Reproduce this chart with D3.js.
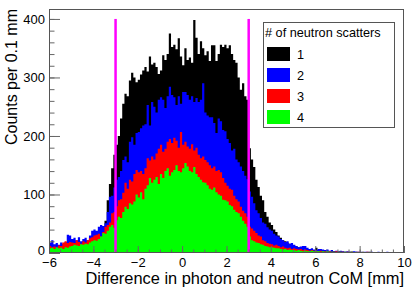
<!DOCTYPE html>
<html lang="en">
<head>
<meta charset="utf-8">
<title>Neutron scatters</title>
<script src="https://cdn.jsdelivr.net/npm/d3@7"></script>
<style>
  body { margin: 0; background: white; }
  svg { display: block; font-family: "Liberation Sans", Arial, sans-serif; }
</style>
</head>
<body>
<div id="chart"></div>
<script>
// bins: 0.1 mm wide, from -6 to 10 mm
var binStart = -6, binWidth = 0.1;

// counts per bin, one row per 1 mm
var oneScatter = [
  8,10,9,12,10,11,13,12,14,15,
  14,16,15,18,17,19,20,20,24,26,
  28,30,34,40,46,55,90,118,145,168,
  185,200,230,255,272,268,295,308,300,292,
  296,305,312,318,310,336,322,325,318,306,
  312,338,330,340,375,352,356,348,367,336,
  321,350,330,334,325,398,368,340,362,350,
  338,345,328,355,355,328,340,356,352,356,
  350,355,340,330,325,300,279,290,268,262,
  179,160,147,125,113,98,90,70,62,52,
  48,40,36,30,26,22,20,18,16,14,
  13,12,10,9,8,8,7,6,6,5,
  9,5,4,4,3,4,3,2,3,3,
  2,3,2,2,1,2,2,1,2,1,
  1,2,1,1,2,1,1,1,1,1,
  1,1,0,1,1,1,0,1,1,0
];
var twoScatter = [
  18,22,15,17,14,18,16,19,31,30,
  24,26,22,27,20,24,26,22,30,38,
  40,38,45,48,46,51,70,96,98,112,
  125,130,140,159,165,155,190,198,185,205,
  207,213,218,220,253,218,258,250,240,262,
  266,262,248,268,284,270,266,253,268,255,
  275,275,270,262,268,258,265,258,262,290,
  240,235,232,232,222,205,230,225,210,208,
  195,188,175,178,160,155,148,140,132,126,
  105,96,85,73,68,60,52,50,44,40,
  38,33,30,28,24,22,19,20,16,17,
  14,12,10,11,12,12,9,7,8,6,
  5,7,7,6,5,6,4,5,3,4,
  3,4,3,2,3,2,2,3,2,2,
  2,1,2,2,1,2,1,1,2,1,
  1,1,2,1,1,0,1,1,1,1
];
var threeScatter = [
  12,10,11,9,13,12,18,20,17,19,
  18,17,22,19,16,20,18,22,25,27,
  30,31,33,28,36,45,48,52,68,70,
  80,90,92,103,120,110,125,122,135,142,
  138,140,135,145,162,158,165,160,170,178,
  185,173,178,190,195,188,197,192,180,207,
  185,190,182,178,186,175,180,168,162,165,
  159,155,150,145,148,140,142,138,128,120,
  115,110,108,98,92,88,79,72,68,62,
  45,42,38,34,30,28,22,20,17,16,
  15,13,14,12,10,11,9,8,9,7,
  8,7,6,7,5,6,5,4,5,4,
  4,3,4,3,3,2,3,2,2,3,
  2,2,2,1,2,1,2,1,1,2,
  1,1,1,2,1,1,1,0,1,1,
  1,0,1,1,0,1,1,0,1,0
];
var fourScatter = [
  8,9,7,10,8,9,7,10,9,11,
  12,14,13,12,15,14,16,15,18,20,
  22,21,24,28,34,33,38,45,48,43,
  56,62,60,70,79,75,85,83,88,100,
  95,104,92,110,116,128,120,125,130,118,
  135,128,140,145,132,138,142,150,140,138,
  145,154,148,140,138,147,135,130,125,121,
  120,116,110,108,112,104,100,98,91,90,
  88,82,80,74,70,68,62,55,50,45,
  28,22,20,18,17,15,14,12,11,10,
  10,9,8,8,7,6,7,5,6,5,
  5,4,5,4,3,4,3,3,4,3,
  3,3,2,3,2,3,2,2,2,1,
  2,2,1,2,1,1,2,1,1,1,
  1,1,1,0,1,1,1,1,0,1,
  0,1,1,0,1,0,1,1,0,1
];
var seriesLabels = ["1", "2", "3", "4"];
var seriesColors = ["#000000", "#0000ff", "#ff0000", "#00ff00"];
var cutLines = [-3, 3];
var cutHeight = 400;
var legendTitle = "# of neutron scatters";
var xTitle = "Difference in photon and neutron CoM [mm]";
var yTitle = "Counts per 0.1 mm";

var W = 415, H = 294;
var padL = 49, padR = 404, padT = 9, padB = 253;

var svg = d3.select("#chart").append("svg")
    .attr("width", W).attr("height", H);

var x = d3.scaleLinear().domain([-6, 10]).range([padL, padR]);
var y = d3.scaleLinear().domain([0, 417]).range([padB, padT]);

svg.append("clipPath").attr("id", "plot")
  .append("rect").attr("x", padL).attr("y", padT)
  .attr("width", padR - padL).attr("height", padB - padT);

var area = d3.area()
    .curve(d3.curveStepAfter)
    .x(function(d) { return x(d[0]); })
    .y0(y(0))
    .y1(function(d) { return y(d[1]); });

var g = svg.append("g").attr("clip-path", "url(#plot)");
[oneScatter, twoScatter, threeScatter, fourScatter].forEach(function(vals, k) {
  var pts = vals.map(function(v, i) { return [binStart + i * binWidth, v]; });
  pts.push([binStart + vals.length * binWidth, vals[vals.length - 1]]);
  g.append("path")
    .attr("d", area(pts))
    .attr("fill", seriesColors[k])
    .attr("stroke", "none");
});

// cut lines
svg.selectAll(".cut").data(cutLines).enter().append("line")
  .attr("x1", function(d) { return x(d); }).attr("x2", function(d) { return x(d); })
  .attr("y1", y(0)).attr("y2", y(cutHeight))
  .attr("stroke", "#ff00ff").attr("stroke-width", 2.5);

// axes, ticks inside the frame
function styleAxis(sel) {
  sel.select(".domain").remove();
  sel.selectAll("line").attr("stroke", "#666");
  sel.selectAll("text").attr("fill", "#000").style("font-size", "13px")
    .style("font-family", "'Liberation Sans', Arial, sans-serif");
}
var fmt = function(d) { return String(d).replace("-", "\u2212"); };

svg.append("g").attr("transform", "translate(" + padL + ",0)")
  .call(d3.axisLeft(y).tickValues(d3.range(0, 401, 20)).tickSize(-5.5).tickFormat(""))
  .call(styleAxis);
svg.append("g").attr("transform", "translate(" + padL + ",0)")
  .call(d3.axisLeft(y).tickValues(d3.range(0, 401, 100)).tickSize(-11).tickPadding(4).tickFormat(fmt))
  .call(styleAxis)
  .selectAll("text").attr("dy", function(d) { return d === 0 ? "0.15em" : "0.32em"; });

svg.append("g").attr("transform", "translate(0," + padB + ")")
  .call(d3.axisBottom(x).tickValues(d3.range(-6, 10.01, 0.5)).tickSize(-3.5).tickFormat(""))
  .call(styleAxis);
svg.append("g").attr("transform", "translate(0," + padB + ")")
  .call(d3.axisBottom(x).tickValues(d3.range(-6, 10.01, 2)).tickSize(-7).tickPadding(5).tickFormat(fmt))
  .call(styleAxis);

svg.append("rect")
  .attr("x", padL + 0.5).attr("y", padT + 0.5)
  .attr("width", padR - padL - 1).attr("height", padB - padT - 1)
  .attr("fill", "none").attr("stroke", "#555");

// titles
svg.append("text")
  .attr("x", padR).attr("y", 284)
  .attr("text-anchor", "end").style("font-size", "16.4px")
  .text(xTitle);
svg.append("text")
  .attr("transform", "translate(17," + padT + ") rotate(-90)")
  .attr("text-anchor", "end").style("font-size", "16px")
  .text(yTitle);

// legend
var lg = svg.append("g");
lg.append("rect").attr("x", 263.5).attr("y", 22.5)
  .attr("width", 131).attr("height", 105)
  .attr("fill", "white").attr("stroke", "#555");
lg.append("text").attr("x", 265).attr("y", 37)
  .style("font-size", "12.7px").text(legendTitle);
var rows = lg.selectAll(".row").data(seriesLabels).enter().append("g")
  .attr("transform", function(d, i) { return "translate(267," + (47 + i * 21) + ")"; });
rows.append("rect").attr("width", 23).attr("height", 14)
  .attr("fill", function(d, i) { return seriesColors[i]; });
rows.append("text").attr("x", 30).attr("y", 11.5)
  .style("font-size", "12.7px").text(function(d) { return d; });
</script>
</body>
</html>
